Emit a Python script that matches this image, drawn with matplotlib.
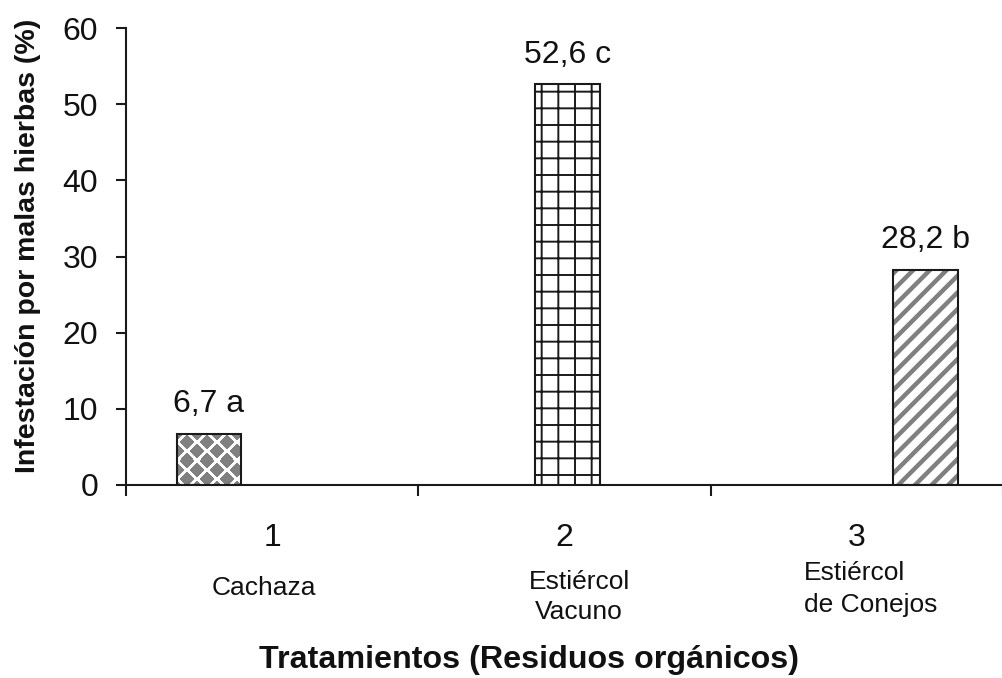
import matplotlib
matplotlib.use("Agg")
import matplotlib.pyplot as plt
import matplotlib.transforms as mtransforms
import numpy as np

plt.rcParams["font.family"] = ["Liberation Sans", "DejaVu Sans"]

# data
positions = [1, 2, 3]
treatments = ["Cachaza", "Estiércol\nVacuno", "Estiércol\nde Conejos"]
values = [6.7, 52.6, 28.2]
letters = ["a", "c", "b"]
yticks = [0, 10, 20, 30, 40, 50, 60]

INK = "#1a1a1a"
GRAY = "#808080"

fig = plt.figure(figsize=(10.03, 6.78), dpi=100, facecolor="white")
ax = fig.add_axes([126 / 1003, 1 - 485 / 678, 1 - 126 / 1003, (485 - 28) / 678])

# Excel-like clustered layout: each bar sits in its own slot of the group
width = 0.222
offsets = [-0.216, 0.01, 0.236]
xs = [i + o for i, o in zip(range(len(values)), offsets)]


def set_hatch_lw(patch, lw):
    if hasattr(patch, "set_hatch_linewidth"):
        patch.set_hatch_linewidth(lw)
    else:
        patch._hatch_linewidth = lw


# bar 1: gray diamond texture (drawn later), outline here
b1 = ax.bar(xs[0], values[0], width, facecolor="none", edgecolor=INK,
            linewidth=1.5, zorder=3)[0]

# bar 2: square grid
b2 = ax.bar(xs[1], values[1], width, facecolor="white", edgecolor=INK,
            hatch="+", linewidth=1.5, zorder=3)[0]
set_hatch_lw(b2, 1.4)

# bar 3: gray diagonal stripes + black outline
b3 = ax.bar(xs[2], values[2], width, facecolor="white", edgecolor=GRAY,
            hatch="//", linewidth=0, zorder=2)[0]
set_hatch_lw(b3, 3.2)
ax.bar(xs[2], values[2], width, facecolor="none", edgecolor=INK,
       linewidth=1.5, zorder=3)

ax.set_xlim(-0.5, 2.483)
ax.set_ylim(0, 60)
ax.set_yticks(yticks)
ax.set_xticks(range(len(values)))
ax.set_xticklabels([str(p) for p in positions])
ax.set_xticks([-0.5, 0.5, 1.5, 2.5], minor=True)

for s in ["top", "right"]:
    ax.spines[s].set_visible(False)
for s in ["left", "bottom"]:
    ax.spines[s].set_linewidth(1.5)
    ax.spines[s].set_color(INK)

ax.tick_params(axis="y", direction="out", length=7, width=1.5, color=INK,
               labelsize=23, pad=13, labelcolor="#111")
ax.tick_params(axis="x", which="major", length=0, labelsize=23, pad=27,
               labelcolor="#111")
ax.tick_params(axis="x", which="minor", direction="out", length=8, width=1.5,
               color=INK)

# value labels
for x, v, l in zip(xs, values, letters):
    ax.annotate(f"{v:.1f}".replace(".", ",") + f" {l}", (x, v),
                xytext=(0, 21.5), textcoords="offset points",
                ha="center", va="center", fontsize=23, color="#111")

# treatment names under the tick numbers
tr = mtransforms.blended_transform_factory(ax.transData, fig.transFigure)
ax.text(-0.03, 1 - 588 / 678, treatments[0], transform=tr, ha="center",
        va="center", fontsize=19, color="#111", clip_on=False)
ax.text(1.05, 1 - 597 / 678, treatments[1], transform=tr, ha="center",
        va="center", fontsize=19, color="#111", multialignment="center",
        linespacing=1.35, clip_on=False)
ax.text(1.82, 1 - 589 / 678, treatments[2], transform=tr, ha="left",
        va="center", fontsize=19, color="#111", multialignment="left",
        linespacing=1.45, clip_on=False)

fig.text(28 / 1003, 1 - 246 / 678, "Infestación por malas hierbas (%)",
         rotation=90, ha="center", va="center", fontsize=20.5,
         fontweight="bold", color="#111")
fig.text(529 / 1003, 1 - 660 / 678, "Tratamientos (Residuos orgánicos)",
         ha="center", va="center", fontsize=23.2, fontweight="bold",
         color="#111")

# diamond texture for bar 1, clipped to the bar
fig.canvas.draw()
bb = b1.get_window_extent()
W, H = int(round(bb.width)), int(round(bb.height))
yy, xx = np.mgrid[0:H, 0:W] + 0.5
gray = np.zeros((H, W), bool)
for cx0, cy0 in [(0, 0), (10, 9)]:
    dx = (xx - cx0 + 10) % 20 - 10
    dy = (yy - cy0 + 9) % 18 - 9
    gray |= (np.abs(dx) + np.abs(dy)) < 7.5
tex = np.ones((H, W, 3))
tex[gray] = np.array([128, 128, 128]) / 255
x0 = b1.get_x()
im = ax.imshow(tex, extent=(x0, x0 + b1.get_width(), 0, values[0]),
               origin="upper", interpolation="nearest", aspect="auto",
               zorder=2)
im.set_clip_path(b1)

fig.savefig("out.png", dpi=100, facecolor="white")
